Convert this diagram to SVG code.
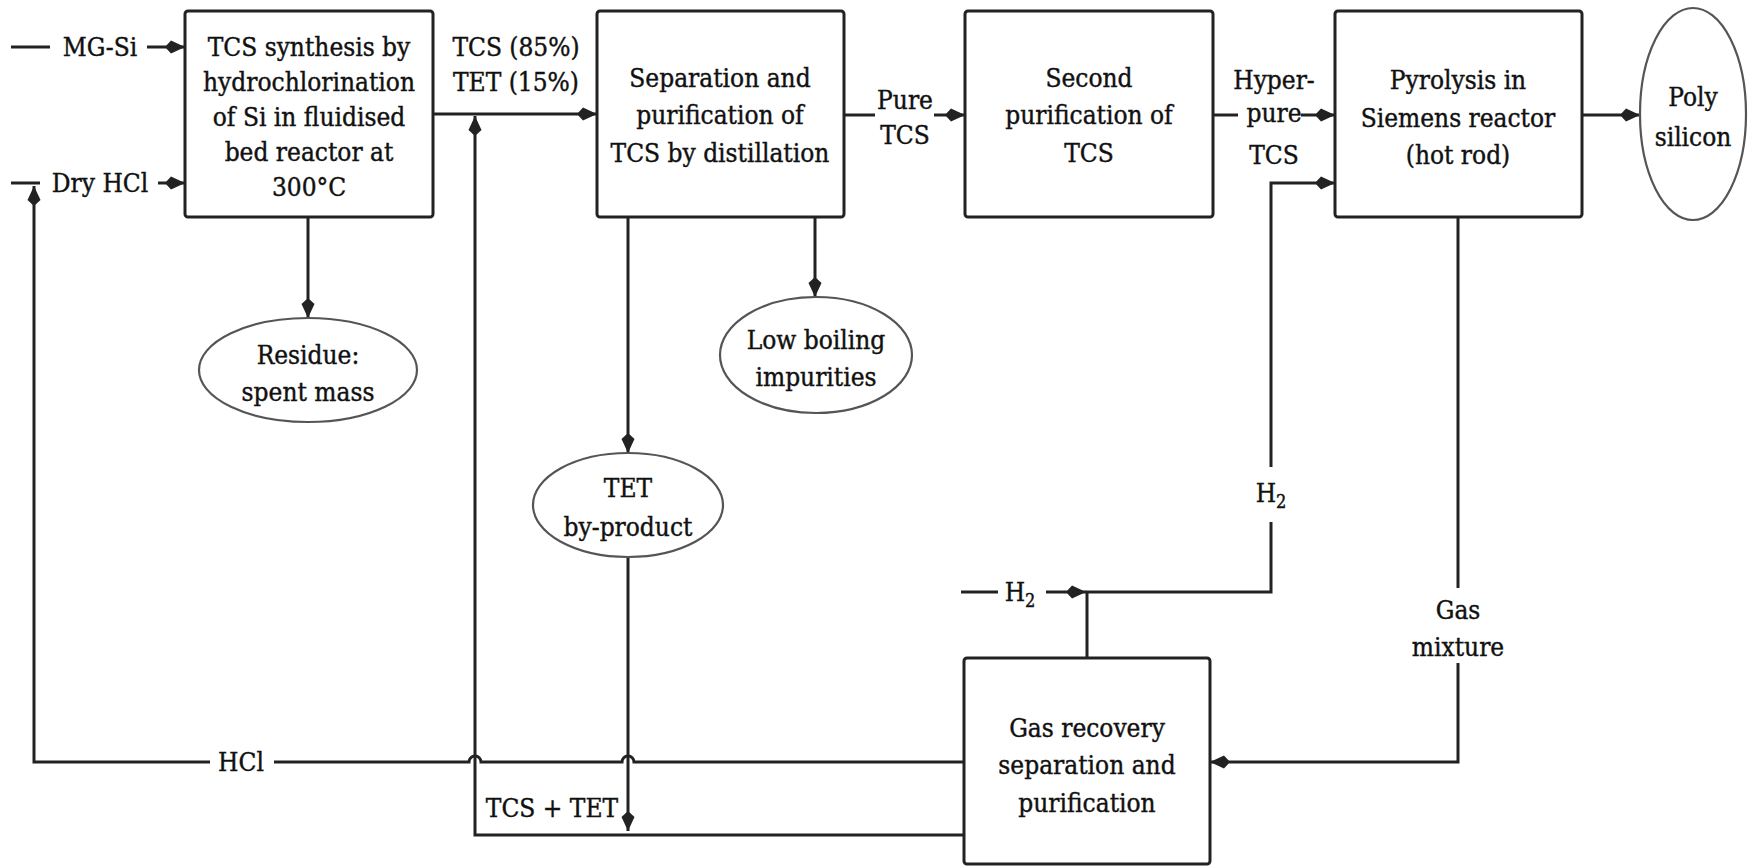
<svg xmlns="http://www.w3.org/2000/svg" width="1750" height="867" viewBox="0 0 1750 867">
<style>
 .box{fill:#fff;stroke:#222;stroke-width:3}
 .ell{fill:#fff;stroke:#555;stroke-width:2.2}
 .ln{fill:none;stroke:#222;stroke-width:3}
 .ar{fill:none;stroke:#222;stroke-width:3;marker-end:url(#ah)}
 text{font-family:'DejaVu Serif',serif;font-stretch:condensed;font-size:26px;fill:#111;stroke:#111;stroke-width:0.4;text-anchor:middle}
 .sub{font-size:18px}
</style>
<defs>
 <marker id="ah" viewBox="0 0 20 14" refX="20" refY="7" markerWidth="20" markerHeight="14" markerUnits="userSpaceOnUse" orient="auto">
  <path d="M0,7 L6,0.5 L20,7 L6,13.5 z" fill="#222"/>
 </marker>
</defs>
<rect width="1750" height="867" fill="#fff"/>

<g id="connectors">
 <path class="ln" d="M11,47 H50"/>
 <path class="ar" d="M147,47 H185"/>
 <path class="ln" d="M11,183 H40"/>
 <path class="ar" d="M158,183 H185"/>
 <path class="ln" d="M964,762 H634 A6,6 0 0 0 622,762 H481 A6,6 0 0 0 469,762 H274"/>
 <path class="ar" d="M210,762 H34 V186"/>
 <path class="ar" d="M433,114 H597"/>
 <path class="ar" d="M964,835 H475 V116"/>
 <path class="ar" d="M628,217 V453"/>
 <path class="ar" d="M628,558 V831"/>
 <path class="ar" d="M308,217 V318"/>
 <path class="ar" d="M815,217 V297"/>
 <path class="ln" d="M844,115 H875"/>
 <path class="ar" d="M934,115 H965"/>
 <path class="ln" d="M1213,115 H1238"/>
 <path class="ar" d="M1301,115 H1335"/>
 <path class="ar" d="M1582,115 H1640"/>
 <path class="ln" d="M1087,658 V592 H1271 V522"/>
 <path class="ar" d="M1271,467 V183 H1335"/>
 <path class="ln" d="M961,592 H998"/>
 <path class="ar" d="M1046,592 H1086"/>
 <path class="ln" d="M1458,218 V588"/>
 <path class="ar" d="M1458,663 V762 H1210"/>
 <g id="connector-labels">
  <text x="100" y="56">MG-Si</text>
  <text x="100" y="192">Dry HCl</text>
  <text x="516" y="56">TCS (85%)</text>
  <text x="516" y="91">TET (15%)</text>
  <text x="905" y="109">Pure</text>
  <text x="905" y="144">TCS</text>
  <text x="1274" y="89">Hyper-</text>
  <text x="1274" y="122">pure</text>
  <text x="1274" y="164">TCS</text>
  <text x="241" y="771">HCl</text>
  <text x="552" y="817">TCS + TET</text>
  <text x="1271" y="502">H<tspan class="sub" dy="6">2</tspan></text>
  <text x="1020" y="601">H<tspan class="sub" dy="6">2</tspan></text>
  <text x="1458" y="619">Gas</text>
  <text x="1458" y="656">mixture</text>
 </g>
</g>

<g id="synthesis">
 <rect class="box" x="185" y="11" width="248" height="206" rx="3"/>
 <text x="309" y="56">TCS synthesis by</text>
 <text x="309" y="91">hydrochlorination</text>
 <text x="309" y="126">of Si in fluidised</text>
 <text x="309" y="161">bed reactor at</text>
 <text x="309" y="196">300°C</text>
</g>
<g id="separation">
 <rect class="box" x="597" y="11" width="247" height="206" rx="3"/>
 <text x="720" y="87">Separation and</text>
 <text x="720" y="124">purification of</text>
 <text x="720" y="162">TCS by distillation</text>
</g>
<g id="second-purification">
 <rect class="box" x="965" y="11" width="248" height="206" rx="3"/>
 <text x="1089" y="87">Second</text>
 <text x="1089" y="124">purification of</text>
 <text x="1089" y="162">TCS</text>
</g>
<g id="pyrolysis">
 <rect class="box" x="1335" y="11" width="247" height="206" rx="3"/>
 <text x="1458" y="89">Pyrolysis in</text>
 <text x="1458" y="127">Siemens reactor</text>
 <text x="1458" y="164">(hot rod)</text>
</g>
<g id="polysilicon">
 <ellipse class="ell" cx="1693" cy="114" rx="53" ry="106"/>
 <text x="1693" y="106">Poly</text>
 <text x="1693" y="146">silicon</text>
</g>
<g id="residue">
 <ellipse class="ell" cx="308" cy="370" rx="109" ry="52"/>
 <text x="308" y="364">Residue:</text>
 <text x="308" y="401">spent mass</text>
</g>
<g id="low-boiling">
 <ellipse class="ell" cx="816" cy="355" rx="96" ry="58"/>
 <text x="816" y="349">Low boiling</text>
 <text x="816" y="386">impurities</text>
</g>
<g id="tet-byproduct">
 <ellipse class="ell" cx="628" cy="505" rx="95" ry="52"/>
 <text x="628" y="497">TET</text>
 <text x="628" y="536">by-product</text>
</g>
<g id="gas-recovery">
 <rect class="box" x="964" y="658" width="246" height="206" rx="3"/>
 <text x="1087" y="737">Gas recovery</text>
 <text x="1087" y="774">separation and</text>
 <text x="1087" y="812">purification</text>
</g>
</svg>
